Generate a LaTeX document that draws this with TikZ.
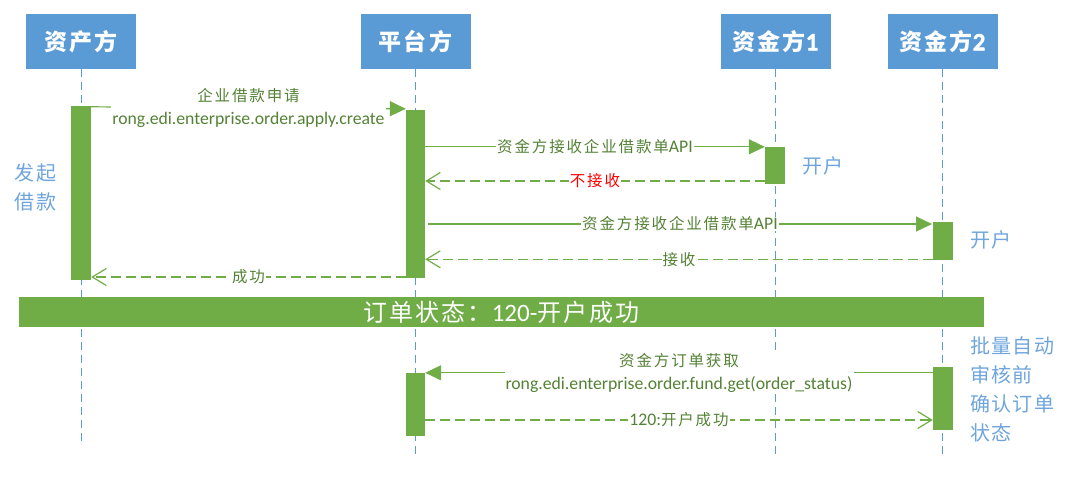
\documentclass[tikz,border=0pt]{standalone}
\usepackage{fontspec}
\setmainfont{Carlito}
\newfontfamily\zhA{Noto Sans CJK SC}[LetterSpace=12]
\newfontfamily\zhB{Noto Sans CJK SC}[LetterSpace=7]
\newfontfamily\zhC{Noto Sans CJK SC}[LetterSpace=9]
\newfontfamily\numbold{Carlito}[UprightFont=* Bold, FakeBold=1.5]
\usetikzlibrary{arrows.meta}
\definecolor{hblue}{HTML}{5B9BD5}
\definecolor{sblue}{HTML}{6FA5DC}
\definecolor{bgreen}{HTML}{70AD47}
\definecolor{tgreen}{HTML}{548235}
\newcommand\zl[1]{{\zhA\fontsize{15.5}{23}\selectfont #1}}
\tikzset{
  hdr/.style={rectangle, fill=hblue, text=white, minimum width=110pt, minimum height=55pt, inner sep=0pt,
    font=\zhC\bfseries\fontsize{23}{26}\selectfont},
  life/.style={draw=hblue, line width=1pt, dash pattern=on 8pt off 5pt},
  act/.style={rectangle, fill=bgreen, draw=none, inner sep=0pt},
  msg/.style={draw=bgreen, line width=1.2pt, -{Triangle[length=16pt,width=15pt]}},
  ret/.style={draw=bgreen, line width=1.2pt, dash pattern=on 10pt off 5pt, -{Straight Barb[length=14pt,width=17pt]}},
  lbl/.style={fill=white, text=tgreen, inner xsep=1pt, inner ysep=0pt, align=center,
    font=\fontsize{17.7}{23}\selectfont},
  side/.style={text=sblue, inner sep=0pt, align=center, font=\zhB\fontsize{20}{29}\selectfont},
}
\begin{document}
\begin{tikzpicture}[x=1pt,y=-1pt]
\useasboundingbox (0,0) rectangle (1065,480);
% headers
\node[hdr] (hA) at (81,41.5) {资产方};
\node[hdr] (hP) at (415.5,41.5) {平台方};
\node[hdr] (hF1) at (775.5,41.5) {资金方{\numbold\mdseries\fontsize{25}{26}\selectfont 1}};
\node[hdr] (hF2) at (942.5,41.5) {资金方{\numbold\mdseries\fontsize{25}{26}\selectfont 2}};
% lifeline ends
\coordinate (eA) at (81,445);
\coordinate (eO) at (0,458);
\draw[life] (hA.south) -- (eA);
\draw[life] (hP.south) -- (hP.south |- eO);
\draw[life] (hF1.south) -- (hF1.south |- eO);
\draw[life] (hF2.south) -- (hF2.south |- eO);
% activation bars
\node[act, minimum width=20pt, minimum height=174pt] (bA) at (81,193) {};
\node[act, minimum width=19pt, minimum height=168pt] (bP1) at (415.5,194) {};
\node[act, minimum width=20pt, minimum height=37pt] (bF1) at (775,165.5) {};
\node[act, minimum width=20pt, minimum height=37.5pt] (bF2) at (943,240.75) {};
\node[act, minimum width=19pt, minimum height=63pt] (bP2) at (415.5,404.5) {};
\node[act, minimum width=20pt, minimum height=63pt] (bF2b) at (943,398.5) {};
% message 1
\draw[msg] ([yshift=-1pt]bA.north east) -- node[lbl]{\zl{企业借款申请}\\rong.edi.enterprise.order.apply.create} ([yshift=1pt]bP1.north west);
% message 2
\draw[msg] (bP1.east |- bF1.north) -- node[lbl]{\zl{资金方接收企业借款单}API} (bF1.north west);
% return 3
\coordinate (y3) at (0,181);
\draw[ret] (bF1.west |- y3) -- node[lbl]{\textcolor{red}{\zl{不接收}}} (bP1.east |- y3);
% message 4
\coordinate (s4) at (428,224);
\coordinate (t4) at (932,224);
\draw[msg] (s4) -- node[lbl]{\zl{资金方接收企业借款单}API} (t4);
% return 5
\coordinate (y5) at (0,259.3);
\draw[ret] (bF2.west |- y5) -- node[lbl]{\zl{接收}} (bP1.east |- y5);
% return 6
\coordinate (y6) at (0,277);
\draw[ret] (bP1.west |- y6) -- node[lbl]{\zl{成功}} (bA.east |- y6);
% status bar
\node[rectangle, fill=bgreen, minimum width=965pt, minimum height=30pt, inner sep=0pt, text=white,
  font=\fontsize{25}{26}\selectfont] (st) at (501.5,312) {{\zhC\fontsize{24}{26}\selectfont 订单状态：}120-{\zhC\fontsize{24}{26}\selectfont 开户成功}};
% message 7
\draw[msg] (bF2b.west |- bP2.north) -- node[lbl]{\zl{资金方订单获取}\\rong.edi.enterprise.order.fund.get(order\_status)} (bP2.north east);
% return 8
\coordinate (y8) at (0,420);
\draw[ret] (bP2.east |- y8) -- node[lbl]{120:\zl{开户成功}} (bF2b.west |- y8);
% side notes
\node[side] (tA) at (35.5,187.5) {发起\\借款};
\node[side] (t1) at (823,165.7) {开户};
\node[side] (t2) at (991,240) {开户};
\node[side, align=left, anchor=west] (t3) at (970,389) {批量自动\\审核前\\确认订单\\状态};
\end{tikzpicture}
\end{document}
